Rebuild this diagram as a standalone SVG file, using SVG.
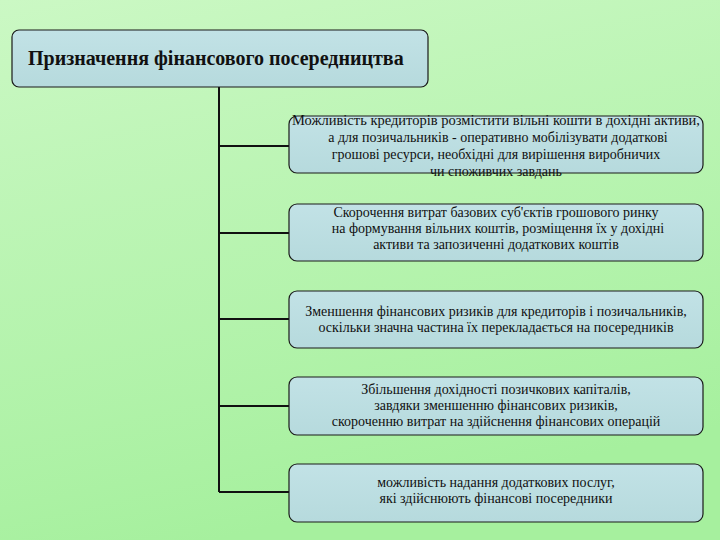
<svg xmlns="http://www.w3.org/2000/svg" width="720" height="540" viewBox="0 0 720 540">
<defs>
<linearGradient id="bg" x1="0" y1="0" x2="0.3" y2="1">
<stop offset="0" stop-color="#cbf8c4"/>
<stop offset="1" stop-color="#a6f09e"/>
</linearGradient>
<linearGradient id="bx" x1="0" y1="0" x2="0" y2="1">
<stop offset="0" stop-color="#c2e2e6"/>
<stop offset="1" stop-color="#b6dadd"/>
</linearGradient>
<style>
.box{fill:url(#bx);stroke:#1a1a1a;stroke-width:1.2}
.t{font-size:14px;fill:#111;text-anchor:middle}
.h{font-size:20px;font-weight:bold;fill:#111}
.c{stroke:#111;stroke-width:2;fill:none}
</style>
</defs>
<rect width="720" height="540" fill="url(#bg)"/>
<g id="connectors">
<path class="c" d="M219 87 V492 M219 146 H289 M219 233 H289 M219 319 H289 M219 406 H289 M219 492 H289"/>
</g>
<g id="title">
<rect class="box" x="12" y="30" width="416" height="57" rx="7"/>
<text class="h" font-family="Liberation Serif" x="28" y="65">Призначення фінансового посередництва</text>
</g>
<g id="n1">
<rect class="box" x="289" y="116" width="414" height="57" rx="8"/>
<text class="t" font-family="Liberation Serif" x="496" y="125" textLength="408" lengthAdjust="spacingAndGlyphs">Можливість кредиторів розмістити вільні кошти в дохідні активи,</text>
<text class="t" font-family="Liberation Serif" x="498" y="142">а для позичальників  - оперативно мобілізувати додаткові</text>
<text class="t" font-family="Liberation Serif" x="496" y="159">грошові ресурси, необхідні для вирішення виробничих</text>
<text class="t" font-family="Liberation Serif" x="496" y="176">чи споживчих завдань</text>
</g>
<g id="n2">
<rect class="box" x="289" y="204" width="414" height="57" rx="8"/>
<text class="t" font-family="Liberation Serif" x="496" y="217">Скорочення витрат базових суб'єктів грошового ринку</text>
<text class="t" font-family="Liberation Serif" x="498" y="233">на формування вільних коштів, розміщення їх у дохідні</text>
<text class="t" font-family="Liberation Serif" x="496" y="249">активи та запозиченні додаткових коштів</text>
</g>
<g id="n3">
<rect class="box" x="289" y="291" width="414" height="57" rx="8"/>
<text class="t" font-family="Liberation Serif" x="496" y="316">Зменшення фінансових ризиків для кредиторів і позичальників,</text>
<text class="t" font-family="Liberation Serif" x="496" y="332">оскільки значна частина їх перекладається на посередників</text>
</g>
<g id="n4">
<rect class="box" x="289" y="377" width="414" height="58" rx="8"/>
<text class="t" font-family="Liberation Serif" x="496" y="394">Збільшення дохідності позичкових капіталів,</text>
<text class="t" font-family="Liberation Serif" x="496" y="410">завдяки зменшенню фінансових ризиків,</text>
<text class="t" font-family="Liberation Serif" x="496" y="426">скороченню витрат на здійснення фінансових операцій</text>
</g>
<g id="n5">
<rect class="box" x="289" y="464" width="414" height="58" rx="8"/>
<text class="t" font-family="Liberation Serif" x="496" y="487">можливість надання додаткових послуг,</text>
<text class="t" font-family="Liberation Serif" x="496" y="503">які здійснюють фінансові посередники</text>
</g>
</svg>
